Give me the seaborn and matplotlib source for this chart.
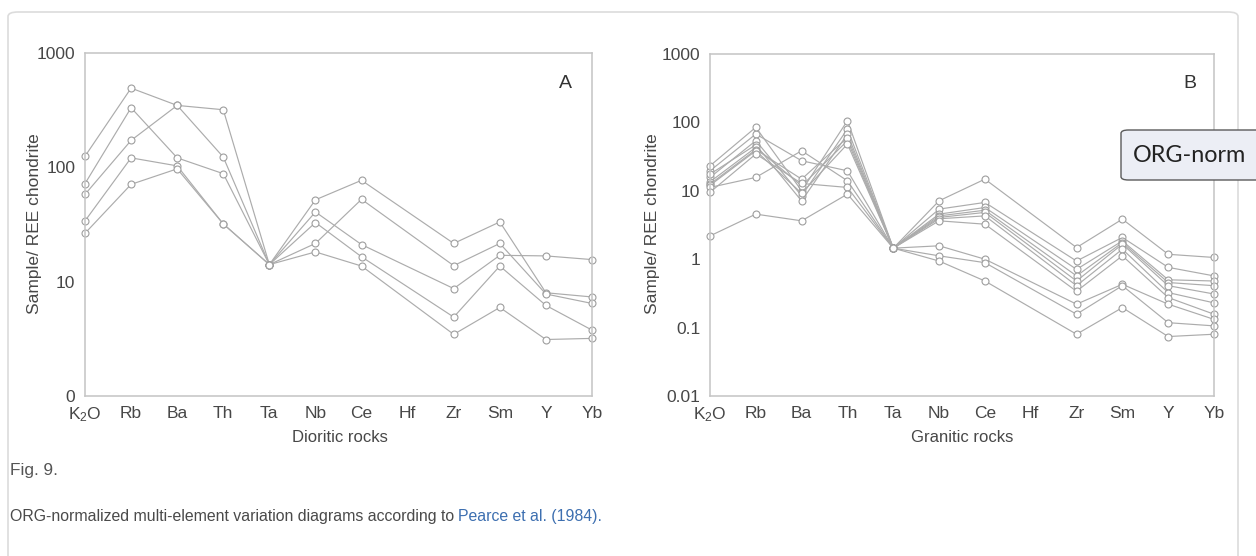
import numpy as np
import pandas as pd
import matplotlib
matplotlib.use("Agg")
import matplotlib.pyplot as plt
import seaborn as sns
from matplotlib.patches import FancyBboxPatch
from matplotlib.ticker import NullLocator
from matplotlib import font_manager

# ---------------- data ----------------
elements = ["K$_2$O", "Rb", "Ba", "Th", "Ta", "Nb", "Ce", "Hf", "Zr", "Sm", "Y", "Yb"]
nan = np.nan

# Panel A - Dioritic rocks
dio_1 = [125, 493, 348, 319, 14.1, 52.0, 77.0, nan, 21.6, 33.3, 8.0, 7.35]
dio_2 = [72, 332, 121, 88, 14.1, 21.6, 52.5, nan, 13.8, 21.6, 7.8, 6.45]
dio_3 = [58, 172, 348, 123, 14.1, 40.7, 21.1, nan, 8.7, 17.0, 16.8, 15.6]
dio_4 = [34, 121, 103, 32, 14.1, 32.9, 16.5, nan, 4.9, 13.7, 6.2, 3.77]
dio_5 = [26.5, 71, 97, 32, 14.1, 18.2, 13.7, nan, 3.46, 5.95, 3.12, 3.19]

# Panel B - Granitic rocks
gra_1 = [19.6, 67.6, 27.5, 19.6, 1.45, 7.14, 14.8, nan, 1.48, 3.85, 1.18, 1.06]
gra_2 = [23.2, 84.8, 10.0, 106, 1.45, 5.4, 6.76, nan, 0.94, 2.08, 0.76, 0.57]
gra_3 = [15.7, 54.0, 8.45, 80, 1.45, 4.56, 5.7, nan, 0.71, 1.85, 0.50, 0.48]
gra_4 = [17.5, 47.0, 7.1, 67.6, 1.45, 4.3, 5.2, nan, 0.57, 1.75, 0.456, 0.41]
gra_5 = [13.5, 43.0, 11.8, 54.0, 1.45, 4.08, 4.83, nan, 0.48, 1.66, 0.41, 0.31]
gra_6 = [12.5, 40.0, 14.8, 60.0, 1.45, 3.9, 4.3, nan, 0.41, 1.40, 0.325, 0.23]
gra_7 = [12.0, 38.5, 9.2, 48.3, 1.45, 3.64, 3.25, nan, 0.34, 1.12, 0.275, 0.157]
gra_8 = [11.2, 15.7, 38.5, 14.0, 1.45, 1.57, 1.0, nan, 0.22, 0.43, 0.22, 0.132]
gra_9 = [9.5, 34.5, 12.8, 11.2, 1.45, 1.12, 0.89, nan, 0.157, 0.41, 0.118, 0.106]
gra_10 = [2.19, 4.56, 3.64, 8.95, 1.45, 0.94, 0.48, nan, 0.08, 0.196, 0.074, 0.08]

dio_samples = [dio_1, dio_2, dio_3, dio_4, dio_5]
gra_samples = [gra_1, gra_2, gra_3, gra_4, gra_5, gra_6, gra_7, gra_8, gra_9, gra_10]

a_ticks = [1, 10, 100, 1000]
a_ticklabels = ["0", "10", "100", "1000"]
b_ticks = [0.01, 0.1, 1, 10, 100, 1000]
b_ticklabels = ["0.01", "0.1", "1", "10", "100", "1000"]


def to_long(samples):
    rows = []
    for s, vals in enumerate(samples):
        for i, v in enumerate(vals):
            if not np.isnan(v):
                rows.append({"sample": s, "pos": i, "value": v})
    return pd.DataFrame(rows)


# ---------------- style ----------------
sns.set_theme(style="white")
names = {f.name for f in font_manager.fontManager.ttflist}
plt.rcParams["font.family"] = ["Liberation Sans", "DejaVu Sans"]
plt.rcParams["mathtext.fontset"] = "custom"
plt.rcParams["mathtext.rm"] = "Liberation Sans"
plt.rcParams["mathtext.it"] = "Liberation Sans:italic"

LINE = "#acacac"
SPINE = "#c4c4c4"
TXT = "#474747"

W, H = 1256, 556
fig = plt.figure(figsize=(W / 100, H / 100), dpi=100)
fig.patch.set_facecolor("white")

# card border
card = FancyBboxPatch((8 / W, -0.05), (1238 - 8) / W, (556 - 12) / H + 0.05,
                      boxstyle="round,pad=0,rounding_size=0.008",
                      transform=fig.transFigure, facecolor="none",
                      edgecolor="#dcdcdc", linewidth=1.2, zorder=-1)
fig.patches.append(card)

axA = fig.add_axes([85 / W, 1 - 396 / H, (592 - 85) / W, (396 - 53) / H])
axB = fig.add_axes([710 / W, 1 - 396 / H, (1214 - 710) / W, (396 - 54) / H])


def draw_panel(ax, samples, ylim, ticks, ticklabels):
    df = to_long(samples)
    sns.lineplot(data=df, x="pos", y="value", units="sample", estimator=None,
                 sort=False, color=LINE, linewidth=0.85, marker="o",
                 markersize=5.0, markerfacecolor="white",
                 markeredgecolor="#9e9e9e", markeredgewidth=0.8,
                 clip_on=False, legend=False, ax=ax)
    ax.set_yscale("log")
    ax.set_ylim(*ylim)
    ax.set_xlim(0, len(elements) - 1)
    ax.set_xticks(range(len(elements)))
    ax.set_xticklabels(elements)
    ax.set_yticks(ticks)
    ax.set_yticklabels(ticklabels)
    ax.yaxis.set_minor_locator(NullLocator())
    ax.set_xlabel("")
    ax.set_ylabel("")
    ax.set_facecolor("white")
    for sp in ax.spines.values():
        sp.set_color(SPINE)
        sp.set_linewidth(1.1)
    ax.tick_params(axis="both", direction="in", length=5, width=0.9,
                   color="#bdbdbd", labelsize=12.5, labelcolor=TXT)
    ax.tick_params(axis="y", pad=7)
    ax.tick_params(axis="x", pad=7)
    ax.grid(False)


draw_panel(axA, dio_samples, (1, 1000), a_ticks, a_ticklabels)
draw_panel(axB, gra_samples, (0.01, 1000), b_ticks, b_ticklabels)

# panel letters
fig.text(565 / W, 1 - 84 / H, "A", fontsize=14, color="#333333", ha="center", va="center")
fig.text(1190 / W, 1 - 84 / H, "B", fontsize=14, color="#333333", ha="center", va="center")

# y labels
fig.text(35 / W, 1 - 224 / H, "Sample/ REE chondrite", rotation=90, fontsize=12.5,
         color=TXT, ha="center", va="center")
fig.text(652 / W, 1 - 224 / H, "Sample/ REE chondrite", rotation=90, fontsize=12.5,
         color=TXT, ha="center", va="center")

# x labels
fig.text(340 / W, 1 - 438 / H, "Dioritic rocks", fontsize=12, color=TXT,
         ha="center", va="center")
fig.text(962 / W, 1 - 438 / H, "Granitic rocks", fontsize=12, color=TXT,
         ha="center", va="center")

# caption
cap_font = ["Liberation Sans Narrow", "Liberation Sans", "DejaVu Sans"]
cap_size = 13.5 if "Liberation Sans Narrow" in names else 11.4
fig.text(10 / W, 1 - 470 / H, "Fig. 9.", fontsize=cap_size + 1.0, color="#555555",
         ha="left", va="center", family=cap_font)
t1 = fig.text(10 / W, 1 - 517 / H,
              "ORG-normalized multi-element variation diagrams according to ",
              fontsize=cap_size, color="#4a4a4a", ha="left", va="center",
              family=cap_font)
fig.canvas.draw()
bb = t1.get_window_extent(renderer=fig.canvas.get_renderer())
fig.text(bb.x1 / W, 1 - 517 / H, "Pearce et al. (1984).", fontsize=cap_size,
         color="#3d6fb0", ha="left", va="center", family=cap_font)

# tooltip box (cut off by figure edge, as in the reference screenshot)
tip = FancyBboxPatch((1121 / W, 1 - 180 / H), 200 / W, 50 / H,
                     boxstyle="round,pad=0,rounding_size=0.006",
                     transform=fig.transFigure, facecolor="#eceef5",
                     edgecolor="#5a5a5a", linewidth=1.0, zorder=5)
fig.patches.append(tip)
fig.text(1133 / W, 1 - 156 / H, "ORG-norm", fontsize=16.8, color="#222222",
         ha="left", va="center", family=["Lato", "DejaVu Sans"], zorder=6)

fig.savefig("out.png", dpi=100, facecolor="white")
